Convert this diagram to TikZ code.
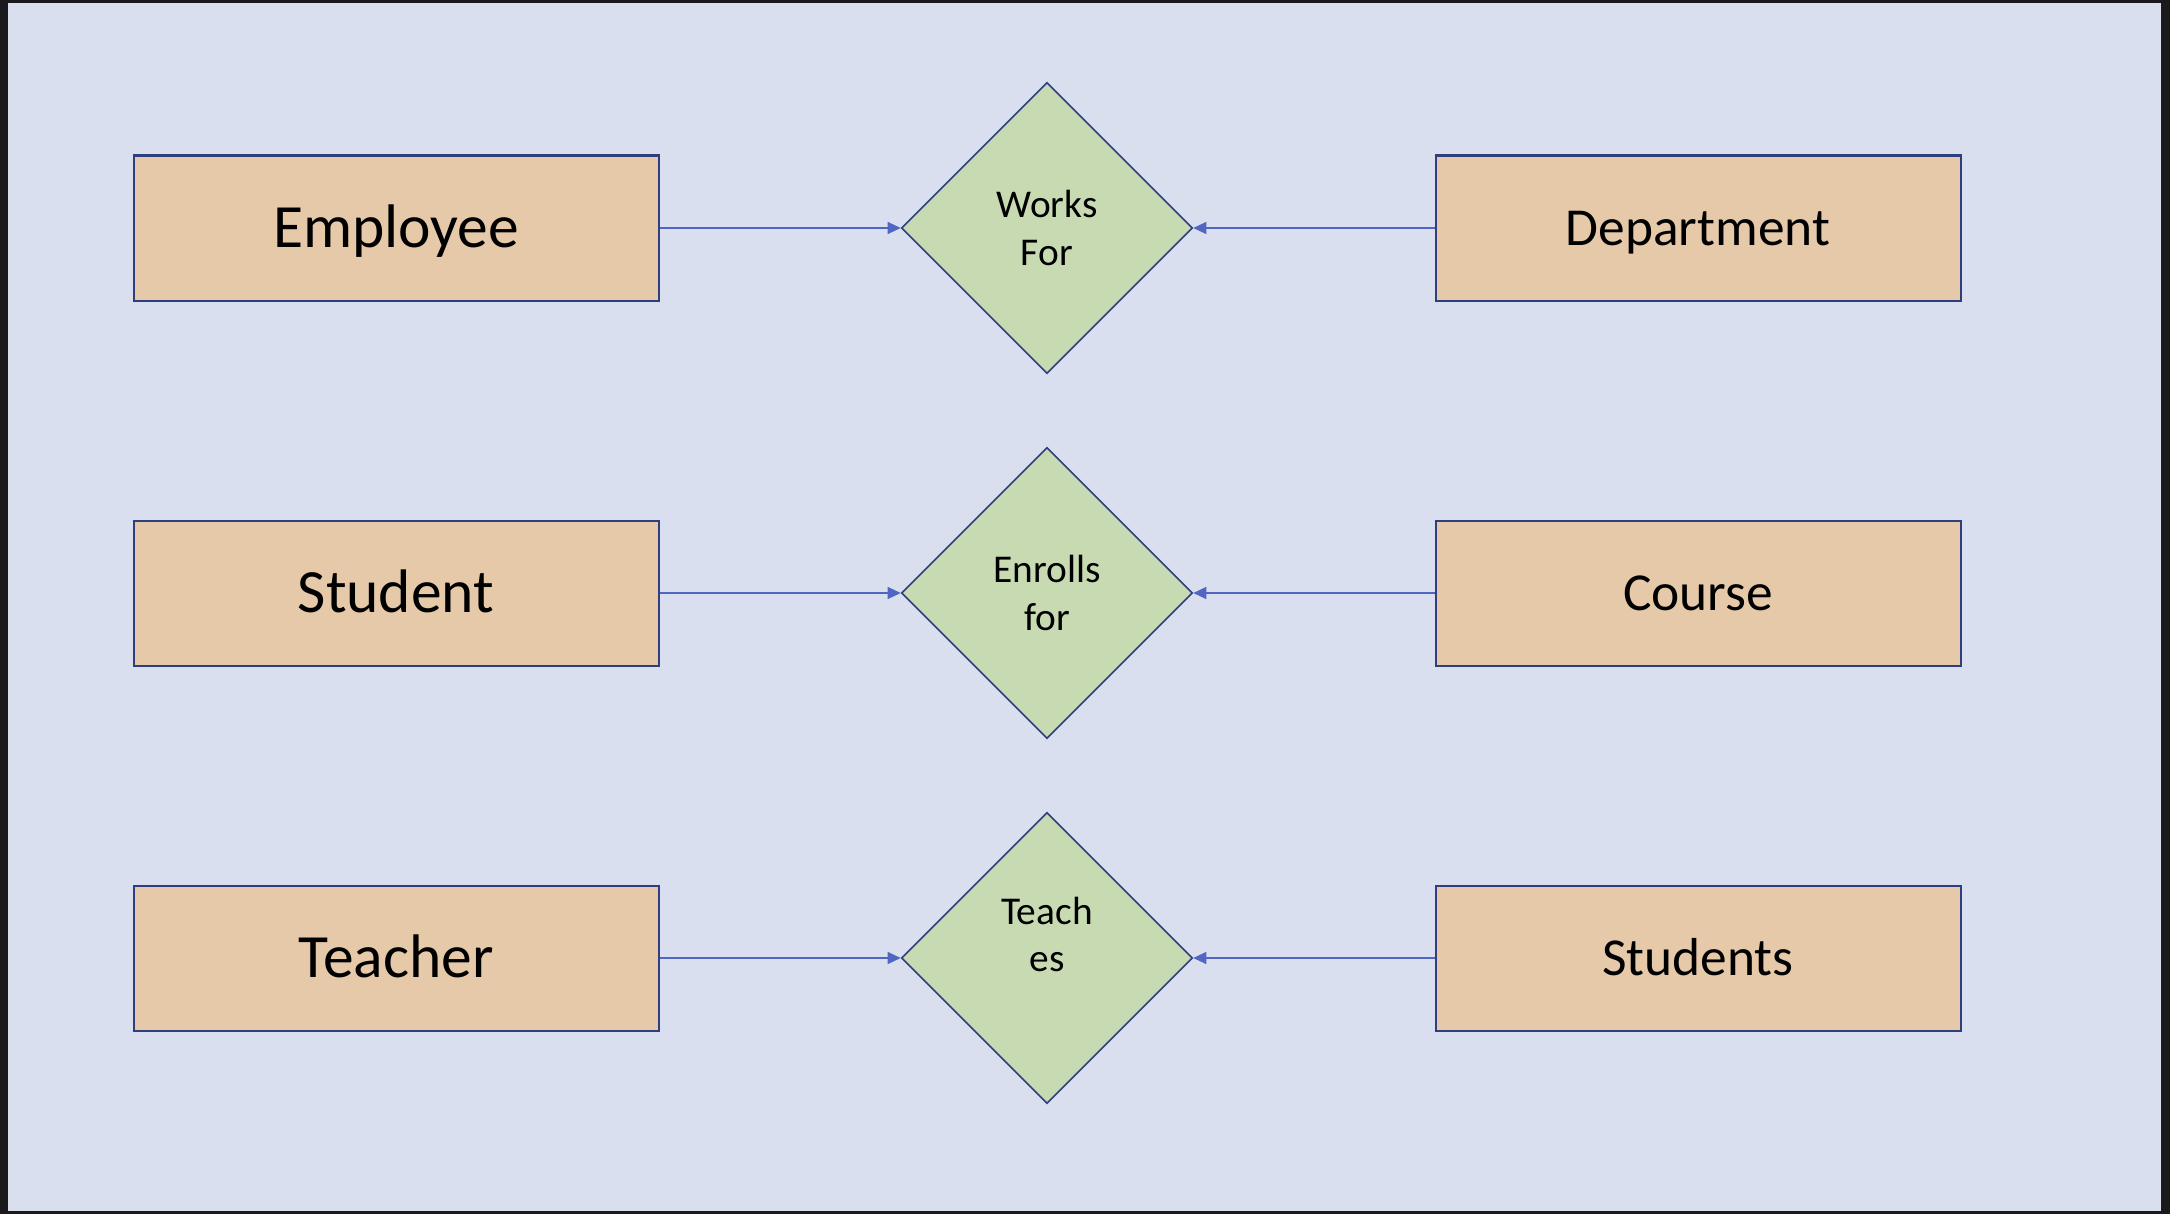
\documentclass[tikz,border=0pt]{standalone}
\usepackage{fontspec}
\setmainfont{Carlito}
\usetikzlibrary{shapes.geometric,arrows.meta,positioning}

\definecolor{framedark}{HTML}{1A1A1C}
\definecolor{slidebg}{HTML}{D9DFEF}
\definecolor{entityfill}{HTML}{E6C9A8}
\definecolor{relfill}{HTML}{C7DAB2}
\definecolor{navyline}{HTML}{2F3E7E}
\definecolor{linkblue}{HTML}{5066C2}

\begin{document}
\begin{tikzpicture}[
	entity/.style={draw=navyline, line width=0.57pt, fill=entityfill, minimum width=5.25cm, minimum height=1.45cm, inner sep=0pt, text depth=0pt},
	leftentity/.style={entity, font=\fontsize{17.5}{21}\selectfont, text height=11.27pt},
	rightentity/.style={entity, font=\fontsize{15.2}{18}\selectfont, text height=9.79pt},
	relation/.style={diamond, draw=navyline, line width=0.45pt, fill=relfill, minimum width=2.91cm, minimum height=2.91cm, inner sep=0pt, align=center, font=\fontsize{11.2}{13.4}\selectfont},
	link/.style={draw=linkblue, line width=0.3pt, -{Triangle[length=0.13cm, width=0.12cm]}}
	]
		% slide background
		\fill[framedark] (0,0) rectangle (21.70,12.14);
		\fill[slidebg] (0.08,0.03) rectangle (21.61,12.11);
		% Employee - Works For - Department
		\node[leftentity] (employee) at (3.96,9.86) {Employee};
		\node[relation] (worksfor) at (10.47,9.86) {Works\\For};
		\node[rightentity] (department) at (16.98,9.86) {Department};
		\draw[link] (employee.east) -- (worksfor.west);
		\draw[link] (department.west) -- (worksfor.east);
		
		% Student - Enrolls for - Course
		\node[leftentity] (student) at (3.96,6.21) {Student};
		\node[relation] (enrollsfor) at (10.47,6.21) {Enrolls\\for};
		\node[rightentity] (course) at (16.98,6.21) {Course};
		\draw[link] (student.east) -- (enrollsfor.west);
		\draw[link] (course.west) -- (enrollsfor.east);
		
		% Teacher - Teaches - Students
		\node[leftentity] (teacher) at (3.96,2.56) {Teacher};
		\node[relation] (teaches) at (10.47,2.56) {Teach\\es\\\mbox{}};
		\node[rightentity] (students) at (16.98,2.56) {Students};
		\draw[link] (teacher.east) -- (teaches.west);
		\draw[link] (students.west) -- (teaches.east);
		
	\end{tikzpicture}
\end{document}
